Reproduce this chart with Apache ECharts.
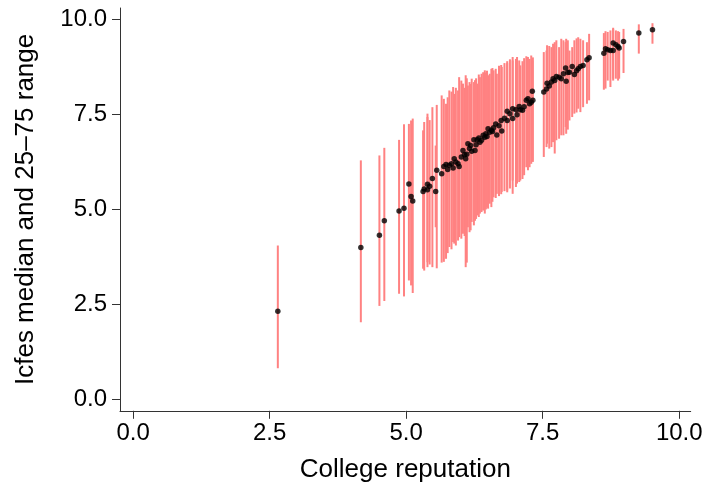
<!DOCTYPE html>
<html><head><meta charset="utf-8">
<script src="https://cdn.jsdelivr.net/npm/echarts@6/dist/echarts.min.js"></script>
<style>html,body{margin:0;padding:0;background:#fff}#c{width:706px;height:482px}</style>
</head><body><div id="c"></div>
<script>
const reputation = [2.65,4.17,4.51,4.60,4.87,4.96,5.05,5.09,5.12,5.31,5.33,5.39,5.39,5.43,5.48,5.54,5.56,5.65,5.69,5.73,5.79,5.86,5.88,5.95,5.97,6.01,6.04,6.07,6.09,6.13,6.16,6.20,6.24,6.26,6.30,6.35,6.38,6.41,6.44,6.46,6.50,6.53,6.56,6.60,6.64,6.66,6.74,6.75,6.85,6.85,6.95,6.95,7.01,7.03,7.07,7.09,7.13,7.20,7.23,7.26,7.29,7.31,7.32,7.52,7.57,7.58,7.66,7.69,7.72,7.75,7.80,7.84,7.88,7.92,7.93,7.99,8.04,8.08,8.15,8.19,8.24,8.31,8.35,8.62,8.65,8.69,8.74,8.79,8.79,8.84,8.88,8.90,8.98,9.26,9.51,
  5.76,5.83,5.91,6.11,6.18,6.28,6.33,6.48,6.58,6.70,6.80,6.90,7.16,7.62,7.96,8.12];
const median = [2.32,4.00,4.32,4.70,4.96,5.03,5.67,5.34,5.22,5.47,5.54,5.66,5.52,5.61,5.81,5.47,6.03,5.94,6.13,6.18,6.16,6.09,6.33,6.20,6.13,6.38,6.55,6.44,6.33,6.73,6.60,6.53,6.83,6.55,6.83,6.77,6.82,6.95,6.90,6.99,7.12,7.03,7.08,7.15,7.25,6.96,7.34,7.06,7.58,7.34,7.39,7.65,7.62,7.49,7.71,7.62,7.61,7.87,7.91,7.78,7.82,8.11,7.87,8.09,8.17,8.32,8.35,8.44,8.39,8.50,8.48,8.44,8.57,8.72,8.37,8.61,8.76,8.55,8.70,8.76,8.79,8.94,8.99,9.11,9.23,9.20,9.18,9.18,9.38,9.33,9.29,9.25,9.42,9.64,9.73,
  6.05,6.20,6.25,6.45,6.68,6.70,6.88,6.92,7.05,7.20,7.40,7.52,7.70,8.25,8.60,8.65];
const p25 = [0.82,2.03,2.46,2.59,2.78,2.71,3.13,3.00,2.80,3.44,3.39,3.48,3.61,3.55,3.48,4.53,3.45,3.60,3.62,3.70,4.01,4.14,4.10,4.18,4.27,4.23,4.36,4.30,3.48,4.53,4.40,4.67,4.58,4.70,4.84,4.89,4.93,4.97,4.89,5.00,5.02,5.15,5.06,5.32,5.30,5.41,5.40,5.46,5.50,5.45,5.41,5.76,5.59,5.68,5.72,5.76,5.80,6.11,6.03,6.11,6.20,6.29,6.25,6.38,6.64,6.73,6.64,6.77,6.47,6.82,6.86,6.95,6.95,7.17,6.99,7.34,7.43,7.52,7.65,7.56,7.69,7.78,7.87,8.15,8.18,8.39,8.22,8.44,8.39,8.44,8.39,8.44,8.59,9.10,9.36,
  3.85,3.95,4.05,3.60,4.45,4.75,4.80,5.05,5.20,5.35,5.48,5.55,5.90,6.60,7.10,7.55];
const p75 = [4.05,6.29,6.42,6.62,6.83,7.24,7.25,7.34,7.39,7.08,7.30,7.52,7.43,7.35,7.69,6.68,7.75,8.00,7.91,7.78,8.13,8.22,8.04,8.13,8.48,8.39,8.31,8.20,8.53,8.26,8.35,8.44,8.35,8.40,8.31,8.48,8.57,8.61,8.66,8.60,8.53,8.57,8.70,8.66,8.70,8.57,8.80,8.75,8.90,8.85,9.01,8.92,8.96,9.01,8.92,8.79,8.90,9.03,9.01,8.96,9.05,8.92,9.00,9.14,9.18,9.32,9.27,9.36,9.40,9.45,9.27,9.49,9.45,9.40,9.49,9.18,9.27,9.45,9.53,9.49,9.45,9.40,9.62,9.64,9.69,9.67,9.71,9.78,9.75,9.71,9.69,9.67,9.75,9.87,9.90,
  7.95,8.10,8.20,8.45,8.30,8.45,8.55,8.65,8.72,8.78,8.85,8.95,8.98,9.30,9.45,9.50];
const xTicks = [0, 2.5, 5, 7.5, 10];
const yTicks = [0, 2.5, 5, 7.5, 10];

const FONT = 'Liberation Sans, Arial, sans-serif';
const chart = echarts.init(document.getElementById('c'), null, {renderer: 'canvas'});
const rangeData = reputation.map((x, i) => [x, p25[i], p75[i]]);
const pointData = reputation.map((x, i) => [x, median[i]]);
const axisCommon = {
  type: 'value',
  axisLine: {show: true, onZero: false, lineStyle: {color: '#333', width: 1}},
  splitLine: {show: false},
  nameLocation: 'middle',
  nameMoveOverlap: false,
  nameTextStyle: {fontSize: 26, color: '#000', fontFamily: FONT}
};
chart.setOption({
  animation: false,
  grid: {left: 120, top: 8, width: 570.7, height: 402.8, containLabel: false, outerBoundsMode: 'none'},
  xAxis: Object.assign({}, axisCommon, {
    min: -0.24, max: 10.21,
    name: 'College reputation', nameGap: 46,
    axisTick: {show: true, customValues: xTicks, length: 8, lineStyle: {color: '#333'}},
    axisLabel: {customValues: xTicks, formatter: v => v.toFixed(1), fontSize: 24, color: '#000', fontFamily: FONT, margin: 11}
  }),
  yAxis: Object.assign({}, axisCommon, {
    min: -0.3, max: 10.3,
    name: 'Icfes median and 25\u201375 range', nameGap: 81,
    axisTick: {show: true, customValues: yTicks, length: 8, lineStyle: {color: '#333'}},
    axisLabel: {customValues: yTicks, formatter: v => v.toFixed(1), fontSize: 24, color: '#000', fontFamily: FONT, margin: 13}
  }),
  series: [
    {
      type: 'custom',
      data: rangeData,
      encode: {x: 0, y: [1, 2]},
      renderItem: function (params, api) {
        const x = api.value(0), lo = api.value(1), hi = api.value(2);
        const a = api.coord([x, lo]), b = api.coord([x, hi]);
        return {type: 'line', shape: {x1: a[0], y1: a[1], x2: b[0], y2: b[1]},
                style: {stroke: '#FF8282', lineWidth: 2}};
      },
      z: 1
    },
    {
      type: 'scatter',
      data: pointData,
      symbol: 'circle',
      symbolSize: 5.5,
      itemStyle: {color: '#000'},
      z: 2
    }
  ]
});
</script>
</body></html>
